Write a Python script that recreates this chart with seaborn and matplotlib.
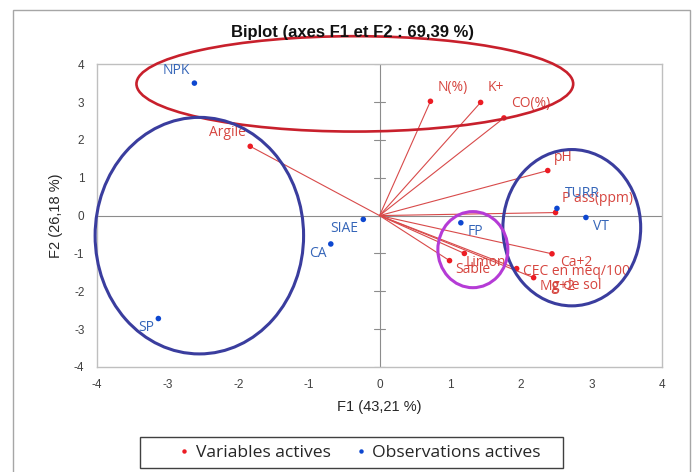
import numpy as np
import pandas as pd
import matplotlib
matplotlib.use("Agg")
import matplotlib.pyplot as plt
from matplotlib.patches import Ellipse, Rectangle
import seaborn as sns

# active variables (loadings scaled on the biplot)
var_names = ['N(%)', 'K+', 'CO(%)', 'pH', 'P ass(ppm)', 'Argile', 'Ca+2',
             'CEC en meq/100\ng de sol', 'Mg+2', 'Limon', 'Sable']
var_f1 = [0.72, 1.43, 1.76, 2.38, 2.49, -1.83, 2.44, 1.94, 2.18, 1.20, 0.99]
var_f2 = [3.02, 2.99, 2.58, 1.19, 0.08, 1.83, -1.01, -1.40, -1.64, -1.00, -1.19]

# active observations
obs_names = ['NPK', 'SIAE', 'CA', 'SP', 'FP', 'TURR', 'VT']
obs_f1 = [-2.62, -0.23, -0.69, -3.13, 1.15, 2.51, 2.92]
obs_f2 = [3.50, -0.10, -0.75, -2.72, -0.19, 0.19, -0.05]

ticks = [-4, -3, -2, -1, 0, 1, 2, 3, 4]

# label offsets in pixels (placement only)
var_offsets = [(22, 14), (15, 15), (27, 14), (15, 13), (42, 14), (-23, 14),
               (24, -9), (60, -10), (24, -9), (22, -9), (23, -9)]
obs_offsets = [(-18, 13), (-19, -9), (-13, -10), (-12, -9), (15, -9), (25, 15), (15, -9)]

# hand-drawn groupings: (cx, cy, width, height, colour, lw)
groups = [
    (-0.35, 3.48, 6.18, 2.52, '#c8202c', 1.9),
    (-2.55, -0.53, 2.95, 6.25, '#3a3d9e', 2.2),
    (2.72, -0.32, 1.95, 4.13, '#3a3d9e', 2.2),
    (1.32, -0.90, 0.99, 2.01, '#b53bd6', 2.2),
]

RED = '#ec1c24'
BLUE = '#0d47d0'
RED_TXT = '#d6453f'
BLUE_TXT = '#3565b8'

sns.set_style("white")
plt.rcParams['font.family'] = ['Liberation Sans', 'DejaVu Sans']
plt.rcParams['axes.unicode_minus'] = False

df = pd.concat([
    pd.DataFrame({'F1': var_f1, 'F2': var_f2, 'label': var_names, 'type': 'Variables actives'}),
    pd.DataFrame({'F1': obs_f1, 'F2': obs_f2, 'label': obs_names, 'type': 'Observations actives'}),
], ignore_index=True)

fig = plt.figure(figsize=(6.92, 4.72), dpi=100)
ax = fig.add_axes([0.140, 0.2225, 0.817, 0.6415])

# outer chart border
fig.patches.append(Rectangle((13 / 692, -0.05), 677 / 692, 1.05 - 10 / 472,
                             transform=fig.transFigure, fill=False,
                             edgecolor='#a6a6a6', lw=1.0))
# legend box
fig.patches.append(Rectangle((140 / 692, 1 - 468 / 472), 423 / 692, 31 / 472,
                             transform=fig.transFigure, fill=False,
                             edgecolor='#404040', lw=1.0))

ax.axhline(0, color='#8c8c8c', lw=0.8, zorder=1)
ax.axvline(0, color='#8c8c8c', lw=0.8, zorder=1)
for t in ticks:
    ax.plot([-0.075, 0.075], [t, t], color='#8c8c8c', lw=0.8, zorder=1)

for x, y in zip(var_f1, var_f2):
    ax.plot([0, x], [0, y], color='#d84a4a', lw=0.8, zorder=2)

sns.scatterplot(data=df, x='F1', y='F2', hue='type',
                palette={'Variables actives': RED, 'Observations actives': BLUE},
                s=16, edgecolor='none', ax=ax, zorder=3)

for name, x, y, off in zip(var_names, var_f1, var_f2, var_offsets):
    ax.annotate(name, (x, y), xytext=off, textcoords='offset pixels',
                ha='center', va='center', color=RED_TXT, fontsize=10,
                family=['Open Sans', 'DejaVu Sans'], linespacing=0.85, zorder=4)
for name, x, y, off in zip(obs_names, obs_f1, obs_f2, obs_offsets):
    ax.annotate(name, (x, y), xytext=off, textcoords='offset pixels',
                ha='center', va='center', color=BLUE_TXT, fontsize=10,
                family=['Open Sans', 'DejaVu Sans'], zorder=4)

for cx, cy, w, h, c, lw in groups:
    ax.add_patch(Ellipse((cx, cy), w, h, fill=False, edgecolor=c, lw=lw,
                         clip_on=False, zorder=5))

ax.set_xlim(-4, 4)
ax.set_ylim(-4, 4)
ax.set_xticks(ticks)
ax.set_yticks(ticks)
ax.tick_params(length=0, labelsize=8.5, labelcolor='#404040', pad=9)
for s in ax.spines.values():
    s.set_color('#bfbfbf')
    s.set_linewidth(1.0)

ax.set_xlabel('F1 (43,21 %)', fontsize=10.5, color='#262626', labelpad=6)
ax.set_ylabel('F2 (26,18 %)', fontsize=10.5, color='#262626', labelpad=8)
fig.suptitle('Biplot (axes F1 et F2 : 69,39 %)', x=0.509, y=0.946,
             fontsize=12, fontweight='bold', color='#111111')

sns.move_legend(ax, 'center', bbox_to_anchor=(0.517, 1 - 452.5 / 472),
                bbox_transform=fig.transFigure, ncol=2, title=None,
                frameon=False, fontsize=12.6, markerscale=0.8,
                handletextpad=0.1, columnspacing=1.2, borderpad=0.2,
                handlelength=1.1)
leg = ax.get_legend()
for t in leg.get_texts():
    t.set_fontfamily(['Open Sans', 'DejaVu Sans'])
    t.set_color('#262626')

fig.savefig('out.png', dpi=100)
